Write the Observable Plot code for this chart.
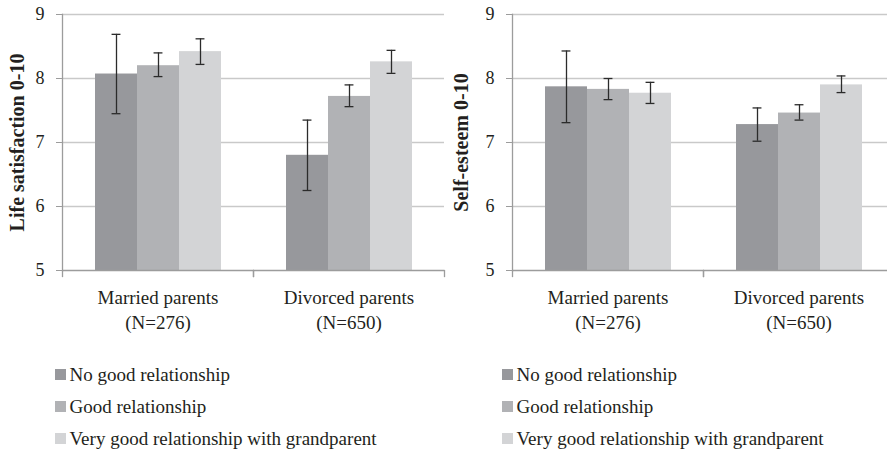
<!DOCTYPE html>
<html><head><meta charset="utf-8">
<script src="https://cdn.jsdelivr.net/npm/d3@7"></script>
<script src="https://cdn.jsdelivr.net/npm/@observablehq/plot@0.6"></script>
<style>
body{margin:0;background:#fff;}
#wrap{position:relative;width:887px;height:452px;overflow:hidden;background:#fff;}
#wrap > *{position:absolute;}
#wrap svg, #wrap svg text, #wrap svg tspan{font-family:"Liberation Serif","Times New Roman",serif !important;}
</style></head><body><div id="wrap"></div>
<script>
const groups = ["Married parents", "Divorced parents"];
const groupN = ["(N=276)", "(N=650)"];
const series = ["No good relationship", "Good relationship", "Very good relationship with grandparent"];
const barColors = ["#97989c", "#b1b2b5", "#d3d4d6"];
const yTicks = [5, 6, 7, 8, 9];

const lifeMeanMarried = [8.07, 8.20, 8.42];
const lifeLowMarried = [7.45, 8.03, 8.22];
const lifeHighMarried = [8.69, 8.40, 8.62];
const lifeMeanDivorced = [6.80, 7.72, 8.26];
const lifeLowDivorced = [6.25, 7.56, 8.08];
const lifeHighDivorced = [7.35, 7.90, 8.44];

const esteemMeanMarried = [7.87, 7.83, 7.77];
const esteemLowMarried = [7.31, 7.67, 7.61];
const esteemHighMarried = [8.43, 8.00, 7.94];
const esteemMeanDivorced = [7.28, 7.46, 7.90];
const esteemLowDivorced = [7.02, 7.35, 7.78];
const esteemHighDivorced = [7.54, 7.59, 8.04];

const FONT = '"Liberation Serif", "Times New Roman", serif';
const INK = "#231f20";
const AXIS = "#9c9c9c";
const ERR = "#2b2b2b";

function rowsFor(means, lows, highs) {
  const rows = [];
  groups.forEach((g, gi) => series.forEach((s, si) => rows.push({
    group: g, series: s, mean: means[gi][si], lo: lows[gi][si], hi: highs[gi][si]
  })));
  return rows;
}

const W = 450, H = 340, mL = 62, mR = 6, mT = 14, mB = 70;

function chart(rows, title, titleDx) {
  const plotH = H - mT - mB;
  const facetW = (W - mL - mR) / groups.length;
  const capInset = facetW / (series.length + 1.5) * 0.39;
  return Plot.plot({
    width: W, height: H, marginLeft: mL, marginRight: mR, marginTop: mT, marginBottom: mB,
    style: {fontFamily: FONT, fontSize: "18px", color: INK, background: "transparent", overflow: "visible"},
    fx: {domain: groups, padding: 0},
    x: {domain: series, paddingInner: 0, paddingOuter: 0.75, axis: null},
    y: {domain: [yTicks[0], yTicks[yTicks.length - 1]]},
    color: {domain: series, range: barColors},
    marks: [
      Plot.ruleY(yTicks.slice(1), {stroke: "#c9c9c9", strokeWidth: 1.5}),
      Plot.barY(rows, {fx: "group", x: "series", y1: () => yTicks[0], y2: "mean", fill: "series"}),
      Plot.ruleX(rows, {fx: "group", x: "series", y1: "lo", y2: "hi", stroke: ERR, strokeWidth: 1.3}),
      Plot.tickY(rows, {fx: "group", x: "series", y: "lo", insetLeft: capInset, insetRight: capInset, stroke: ERR, strokeWidth: 1.3}),
      Plot.tickY(rows, {fx: "group", x: "series", y: "hi", insetLeft: capInset, insetRight: capInset, stroke: ERR, strokeWidth: 1.3}),
      Plot.ruleY([yTicks[0]], {stroke: AXIS, strokeWidth: 1.3}),
      Plot.frame({anchor: "left", facet: "super", stroke: AXIS, strokeWidth: 1.3}),
      Plot.frame({anchor: "left", insetTop: plotH, insetBottom: -6, stroke: AXIS, strokeWidth: 1.3}),
      Plot.frame({anchor: "right", insetTop: plotH, insetBottom: -6, stroke: AXIS, strokeWidth: 1.3}),
      Plot.axisY({ticks: yTicks, tickFormat: d => String(d), tickSize: 6, tickPadding: 12, label: null, stroke: AXIS, fontSize: 18, fill: INK, fontFamily: FONT}),
      Plot.axisFx({anchor: "bottom", tickSize: 0, tickPadding: 16, label: null,
        tickFormat: d => d + "\n" + groupN[groups.indexOf(d)], lineHeight: 1.3, fontSize: 19, fill: INK, fontFamily: FONT}),
      Plot.text([title], {text: d => d, facet: "super", frameAnchor: "left", textAnchor: "middle", rotate: -90, dx: titleDx,
        fontWeight: "bold", fontSize: 20, fill: INK, fontFamily: FONT})
    ]
  });
}

function legend(left) {
  return Plot.plot({
    width: 430, height: 100, marginLeft: left, marginRight: 0, marginTop: 2, marginBottom: 0.5,
    style: {fontFamily: FONT, fontSize: "19px", color: INK, background: "transparent", overflow: "visible"},
    y: {type: "band", domain: series, padding: 0, axis: null},
    color: {domain: series, range: barColors},
    marks: [
      Plot.dot(series, {y: d => d, fill: d => d, symbol: "square", r: 6.2, frameAnchor: "left"}),
      Plot.text(series, {y: d => d, text: d => d, frameAnchor: "left", dx: 9, textAnchor: "start", fontSize: 19, fill: INK, fontFamily: FONT})
    ]
  });
}

const wrap = document.getElementById("wrap");
const c1 = chart(rowsFor([lifeMeanMarried, lifeMeanDivorced], [lifeLowMarried, lifeLowDivorced], [lifeHighMarried, lifeHighDivorced]), "Life satisfaction 0-10", -45);
c1.style.left = "0px"; c1.style.top = "0px";
const c2 = chart(rowsFor([esteemMeanMarried, esteemMeanDivorced], [esteemLowMarried, esteemLowDivorced], [esteemHighMarried, esteemHighDivorced]), "Self-esteem 0-10", -50.5);
c2.style.left = "450px"; c2.style.top = "0px";
const l1 = legend(60); l1.style.left = "0px"; l1.style.top = "355px";
const l2 = legend(57); l2.style.left = "450px"; l2.style.top = "355px";
wrap.append(c1, c2, l1, l2);
</script></body></html>
